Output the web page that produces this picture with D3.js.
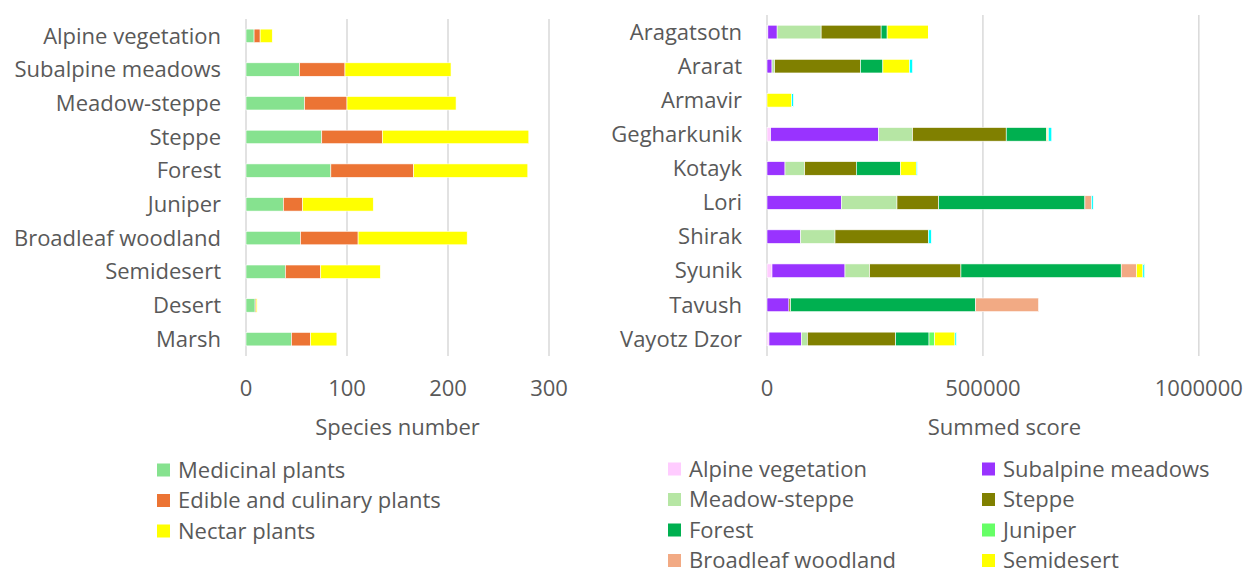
<!DOCTYPE html>
<meta charset="utf-8">
<script src="https://d3js.org/d3.v7.min.js"></script>
<style>
  body { margin: 0; background: #fff; }
  text { font-family: "Open Sans", "Noto Sans", sans-serif; fill: #595959; }
</style>
<div id="chart"></div>
<script>
  // left chart: species number by vegetation type
  var vegTypes = ["Alpine vegetation", "Subalpine meadows", "Meadow-steppe", "Steppe", "Forest",
    "Juniper", "Broadleaf woodland", "Semidesert", "Desert", "Marsh"];
  var useGroups = ["Medicinal plants", "Edible and culinary plants", "Nectar plants"];
  var medicinal = [8, 53, 58, 75, 84, 37, 54, 39, 9, 45];
  var edible = [6, 45, 42, 60, 82, 19, 57, 35, 1, 19];
  var nectar = [12, 105, 108, 145, 113, 70, 108, 59, 1, 26];
  var useColors = ["#86E28F", "#EC7434", "#FFFF00"];
  var leftTicks = [0, 100, 200, 300];

  // right chart: summed score by province
  var provinces = ["Aragatsotn", "Ararat", "Armavir", "Gegharkunik", "Kotayk", "Lori",
    "Shirak", "Syunik", "Tavush", "Vayotz Dzor"];
  var habitats = ["Alpine vegetation", "Subalpine meadows", "Meadow-steppe", "Steppe", "Forest",
    "Juniper", "Broadleaf woodland", "Semidesert", "Marsh"];
  var alpineS = [2000, 0, 0, 8500, 0, 0, 0, 11600, 0, 4600];
  var subalpineS = [21500, 11600, 0, 250000, 41700, 172200, 78000, 169000, 50900, 75000];
  var meadowS = [101900, 6000, 0, 78700, 45500, 128800, 79500, 57100, 0, 13900];
  var steppeS = [138900, 199000, 0, 216800, 119600, 96500, 216100, 211400, 3900, 204500];
  var forestS = [13900, 51700, 0, 93400, 102600, 338700, 0, 371200, 428300, 77200];
  var juniperS = [0, 0, 0, 0, 0, 0, 0, 0, 0, 13100];
  var broadleafS = [0, 0, 0, 2000, 0, 15400, 0, 35500, 145800, 0];
  var semidesertS = [95700, 61700, 57200, 2000, 36300, 0, 0, 14700, 0, 47000];
  var marshS = [1000, 7000, 3900, 8000, 2300, 3800, 6900, 3900, 0, 3200];
  var habitatColors = ["#FFCCFF", "#9933FF", "#B6E6A4", "#808000", "#00B050",
    "#66FF66", "#F2AA84", "#FFFF00", "#00FFFF"];
  var rightTicks = [0, 500000, 1000000];

  var W = 1245, H = 574, FS = "22px";
  var svg = d3.select("#chart").append("svg").attr("width", W).attr("height", H);

  function drawPanel(cfg) {
    var x = d3.scaleLinear().domain(cfg.domain).range([cfg.x0, cfg.x1]);
    var y = d3.scaleBand().domain(cfg.cats).range([cfg.y0, cfg.y1]).paddingInner(0.6).paddingOuter(0.3);
    var g = svg.append("g");

    // gridlines
    g.selectAll(".grid").data(cfg.ticks).enter().append("line")
      .attr("x1", function (d) { return x(d); })
      .attr("x2", function (d) { return x(d); })
      .attr("y1", cfg.y0).attr("y2", cfg.y1)
      .attr("stroke", "#D9D9D9").attr("stroke-width", 1.5);

    // stacked bars
    var rows = cfg.cats.map(function (c, i) {
      var r = { cat: c };
      cfg.keys.forEach(function (k, j) { r[k] = cfg.values[j][i]; });
      return r;
    });
    var stack = d3.stack().keys(cfg.keys)(rows);
    g.selectAll(".series").data(stack).enter().append("g")
      .attr("fill", function (d, i) { return cfg.colors[i]; })
      .selectAll("rect").data(function (d) { return d; }).enter().append("rect")
      .attr("x", function (d) { return x(d[0]); })
      .attr("y", function (d) { return y(d.data.cat); })
      .attr("width", function (d) { return Math.max(0, x(d[1]) - x(d[0])); })
      .attr("height", y.bandwidth())
      .attr("stroke", "#fff").attr("stroke-width", 0.6);

    // category labels
    g.selectAll(".cat").data(cfg.cats).enter().append("text")
      .attr("x", cfg.x0 - 25)
      .attr("y", function (d) { return y(d) + y.bandwidth() / 2; })
      .attr("dy", "0.35em").attr("text-anchor", "end")
      .style("font-size", FS).text(function (d) { return d; });

    // tick labels
    g.selectAll(".tick").data(cfg.ticks).enter().append("text")
      .attr("x", function (d) { return x(d); }).attr("y", 388)
      .attr("dy", "0.35em").attr("text-anchor", "middle")
      .style("font-size", FS).text(function (d) { return d; });

    // axis title
    g.append("text")
      .attr("x", (cfg.x0 + cfg.x1) / 2).attr("y", 427)
      .attr("dy", "0.35em").attr("text-anchor", "middle")
      .style("font-size", FS).text(cfg.title);
  }

  drawPanel({
    cats: vegTypes, keys: useGroups, values: [medicinal, edible, nectar], colors: useColors,
    domain: [0, 300], ticks: leftTicks, x0: 246, x1: 549, y0: 19, y1: 356, title: "Species number"
  });

  drawPanel({
    cats: provinces, keys: habitats,
    values: [alpineS, subalpineS, meadowS, steppeS, forestS, juniperS, broadleafS, semidesertS, marshS],
    colors: habitatColors,
    domain: [0, 1100000], ticks: rightTicks, x0: 767, x1: 1242, y0: 15, y1: 356, title: "Summed score"
  });

  // legends
  function legend(items, colors, x, y, rowH) {
    var g = svg.append("g").attr("transform", "translate(" + x + "," + y + ")");
    var it = g.selectAll("g").data(items).enter().append("g")
      .attr("transform", function (d, i) { return "translate(0," + i * rowH + ")"; });
    it.append("rect").attr("x", 0).attr("y", -6.5).attr("width", 13).attr("height", 13)
      .attr("fill", function (d, i) { return colors[i]; });
    it.append("text").attr("x", 21).attr("y", 0).attr("dy", "0.35em")
      .style("font-size", FS).text(function (d) { return d; });
  }
  legend(useGroups, useColors, 157, 470, 30.5);

  var leg1 = [0, 2, 4, 6], leg2 = [1, 3, 5, 7];
  legend(leg1.map(function (i) { return habitats[i]; }), leg1.map(function (i) { return habitatColors[i]; }), 668, 469, 30.5);
  legend(leg2.map(function (i) { return habitats[i]; }), leg2.map(function (i) { return habitatColors[i]; }), 982, 469, 30.5);
</script>
